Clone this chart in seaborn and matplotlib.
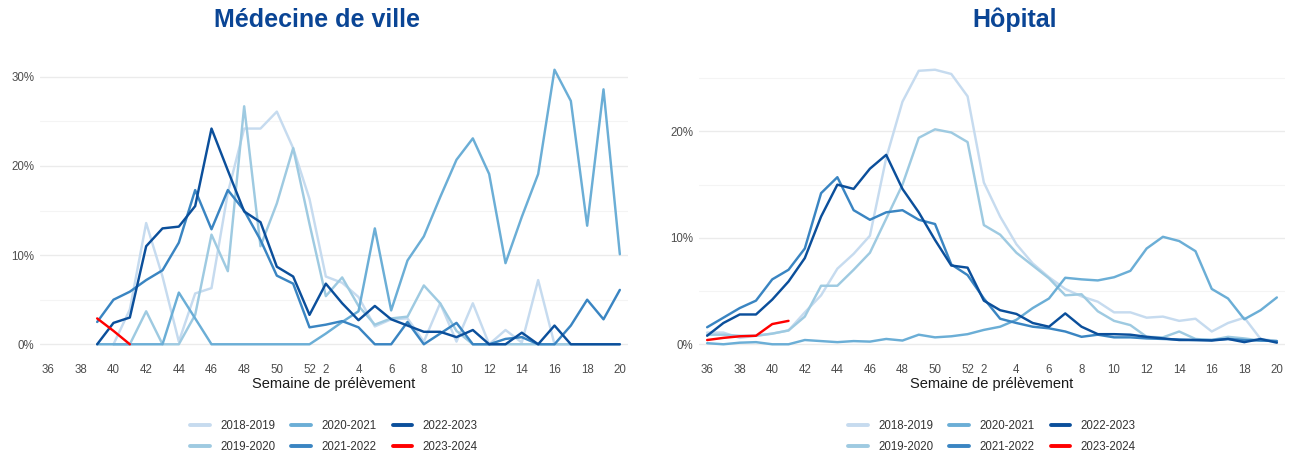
import numpy as np
import pandas as pd
import matplotlib
matplotlib.use("Agg")
import matplotlib.pyplot as plt
import seaborn as sns

N = None
# x positions: weeks 36..52 then 2..20 (as labelled in the reference)
WEEKS = list(range(36, 53)) + list(range(2, 21))
SEASONS = ["2018-2019", "2019-2020", "2020-2021", "2021-2022", "2022-2023", "2023-2024"]
COLORS = ["#c6dbef", "#9ecae1", "#6baed6", "#3a85c2", "#0b4f9b", "#ff0000"]

# Médecine de ville (% positive)
ville_2018 = [N, N, N, N, 0, 3.9, 13.6, 7.6, 0.3, 5.7, 6.3, 17.0, 24.2, 24.2, 26.1, 22.0, 16.3,
              7.6, 6.9, 5.3, 2.0, 2.8, 2.9, 0.3, 4.6, 0.3, 4.6, 0, 1.6, 0.2, 7.2, 0, 0, 0, 0, 0]
ville_2019 = [N, N, N, N, 0, 0, 3.7, 0, 0, 3.3, 12.3, 8.2, 26.7, 11.0, 15.8, 22.0, 13.5,
              5.4, 7.5, 4.3, 2.2, 2.9, 3.1, 6.6, 4.6, 1.5, 0, 0, 0, 0, 0, 0, 0, 0, 0, 0]
ville_2020 = [N, N, N, 0, 0, 0, 0, 0, 5.8, 2.9, 0, 0, 0, 0, 0, 0, 0,
              1.2, 2.5, 3.7, 13.0, 3.8, 9.4, 12.1, 16.5, 20.7, 23.1, 19.1, 9.1, 14.3, 19.1, 30.8,
              27.3, 13.3, 28.6, 10.1]
ville_2021 = [N, N, N, 2.5, 5.0, 5.9, 7.2, 8.3, 11.4, 17.3, 12.9, 17.3, 15.0, 11.7, 7.7, 6.8, 1.9,
              2.2, 2.6, 1.9, 0, 0, 2.5, 0, 1.2, 2.4, 0, 0, 0.6, 0.8, 0, 0, 2.1, 5.0, 2.8, 6.1]
ville_2022 = [N, N, N, 0, 2.4, 3.0, 11.0, 13.0, 13.2, 15.5, 24.2, 19.5, 14.9, 13.7, 8.7, 7.6, 3.3,
              6.8, 4.6, 2.7, 4.3, 2.8, 2.1, 1.4, 1.4, 0.8, 1.6, 0, 0, 1.3, 0, 2.1, 0, 0, 0, 0]
ville_2023 = [N, N, N, 2.9, 1.5, 0] + [N] * 30

# Hôpital (% positive)
hop_2018 = [1.1, 1.1, 0.6, 0.8, 1.0, 1.3, 3.0, 4.6, 7.1, 8.5, 10.2, 17.5, 22.8, 25.7, 25.8, 25.4, 23.3,
            15.2, 12.0, 9.4, 7.6, 6.3, 5.2, 4.5, 4.0, 3.0, 3.0, 2.5, 2.6, 2.2, 2.4, 1.2, 2.0, 2.5,
            0.5, 0.3]
hop_2019 = [0.9, 0.9, 0.8, 0.8, 1.0, 1.3, 2.6, 5.5, 5.5, 7.0, 8.6, 11.8, 15.0, 19.4, 20.2, 19.9, 19.0,
            11.2, 10.3, 8.6, 7.4, 6.2, 4.6, 4.7, 3.1, 2.2, 1.8, 0.7, 0.65, 1.2, 0.5, 0.4, 0.7, 0.55,
            0.35, 0.3]
hop_2020 = [0.1, 0.0, 0.15, 0.2, 0.0, 0.0, 0.4, 0.3, 0.2, 0.3, 0.25, 0.5, 0.35, 0.9, 0.65, 0.75, 0.95,
            1.35, 1.65, 2.3, 3.4, 4.3, 6.25, 6.1, 6.0, 6.3, 6.9, 9.0, 10.1, 9.7, 8.75, 5.2, 4.3, 2.35,
            3.2, 4.4]
hop_2021 = [1.6, 2.5, 3.4, 4.1, 6.1, 7.0, 9.0, 14.2, 15.7, 12.6, 11.7, 12.4, 12.6, 11.7, 11.3, 7.5, 6.5,
            4.3, 2.4, 2.0, 1.65, 1.5, 1.2, 0.7, 0.9, 0.65, 0.65, 0.55, 0.5, 0.45, 0.4, 0.4, 0.5, 0.4,
            0.35, 0.3]
hop_2022 = [0.8, 2.0, 2.8, 2.8, 4.2, 5.9, 8.1, 12.0, 15.0, 14.6, 16.5, 17.8, 14.6, 12.4, 9.8, 7.4, 7.2,
            4.1, 3.2, 2.85, 2.0, 1.65, 2.9, 1.65, 0.95, 0.95, 0.9, 0.7, 0.55, 0.4, 0.4, 0.35, 0.5, 0.2,
            0.5, 0.15]
hop_2023 = [0.4, 0.6, 0.75, 0.8, 1.9, 2.2] + [N] * 30

VILLE = [ville_2018, ville_2019, ville_2020, ville_2021, ville_2022, ville_2023]
HOP = [hop_2018, hop_2019, hop_2020, hop_2021, hop_2022, hop_2023]


def to_long(series_list):
    rows = []
    for season, vals in zip(SEASONS, series_list):
        for pos, v in enumerate(vals):
            if v is not None:
                rows.append({"pos": pos, "week": WEEKS[pos], "val": v, "season": season})
    return pd.DataFrame(rows)


sns.set_theme(style="white")
plt.rcParams["font.family"] = ["Liberation Sans", "DejaVu Sans"]

W, H = 1292, 455
fig = plt.figure(figsize=(W / 100, H / 100), dpi=100)
palette = dict(zip(SEASONS, COLORS))
TITLE_C = "#0a4595"

panels = [
    ("Médecine de ville", VILLE, 40, 588, [0, 10, 20, 30], 317),
    ("Hôpital", HOP, 699, 586, [0, 10, 20], 1015),
]
ax_top, ax_bot = 56, 358
for title, data, left, width, yt, tx in panels:
    ax = fig.add_axes([left / W, 1 - ax_bot / H, width / W, (ax_bot - ax_top) / H])
    df = to_long(data)
    sns.lineplot(data=df, x="pos", y="val", hue="season", hue_order=SEASONS,
                 palette=palette, linewidth=1.75, ax=ax, legend=True)
    ax.set_xlim(-0.5, 35.5)
    vmax = df["val"].max()
    ax.set_ylim(-0.05 * vmax, vmax * 1.05)
    for s in ax.spines.values():
        s.set_visible(False)
    ax.set_yticks(yt)
    ax.set_yticklabels([f"{v}%" for v in yt])
    ax.set_yticks([5, 15, 25], minor=True)
    ax.yaxis.grid(True, which="major", color="#ebebeb", linewidth=1.0)
    ax.yaxis.grid(True, which="minor", color="#f4f4f4", linewidth=0.8)
    ax.xaxis.grid(False)
    ax.set_axisbelow(True)
    tick_pos = [i for i, w in enumerate(WEEKS) if w % 2 == 0]
    ax.set_xticks(tick_pos)
    ax.set_xticklabels([str(WEEKS[i]) for i in tick_pos])
    ax.tick_params(axis="both", length=0, labelsize=8.3, labelcolor="#4d4d4d", pad=4)
    ax.set_xlabel("Semaine de prélèvement", fontsize=10.5, color="#1a1a1a", labelpad=1)
    ax.set_ylabel("")
    leg = ax.legend(loc="center", bbox_to_anchor=(0.5, -0.26), ncol=3, frameon=False,
                    fontsize=8.3, handlelength=1.7, columnspacing=1.4, labelspacing=0.75,
                    handletextpad=0.9)
    for line in leg.get_lines():
        line.set_linewidth(2.8)
    for t in leg.get_texts():
        t.set_color("#333333")
    fig.text(tx / W, 1 - 20 / H, title, ha="center", va="center", fontsize=18,
             fontweight="bold", color=TITLE_C)

fig.savefig("out.png", dpi=100, facecolor="white")
